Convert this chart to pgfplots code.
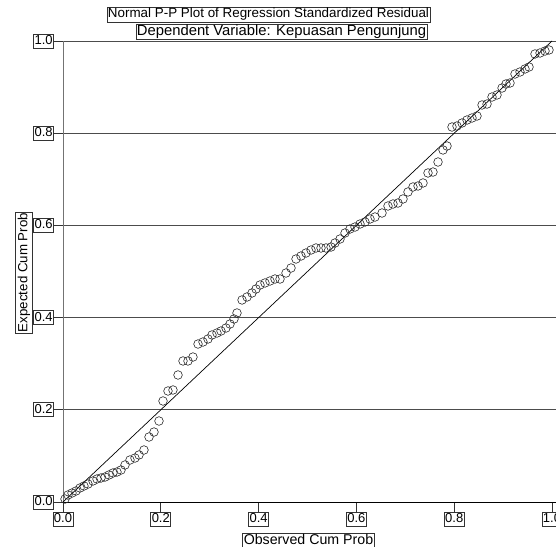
\documentclass[border=0pt]{standalone}
\usepackage{pgfplots}
\pgfplotsset{compat=1.18}
\usepackage{fontspec}
\setmainfont{Liberation Sans}
\pgfplotstableread{
x y
0.0041 0.0065
0.0102 0.0152
0.0184 0.0195
0.0266 0.0239
0.0348 0.0304
0.0429 0.0347
0.0511 0.0390
0.0613 0.0456
0.0695 0.0499
0.0777 0.0521
0.0859 0.0542
0.0941 0.0586
0.1022 0.0629
0.1104 0.0651
0.1186 0.0694
0.1268 0.0803
0.1370 0.0911
0.1472 0.0954
0.1554 0.1020
0.1656 0.1128
0.1759 0.1410
0.1861 0.1518
0.1963 0.1757
0.2045 0.2191
0.2147 0.2408
0.2249 0.2430
0.2352 0.2755
0.2454 0.3059
0.2556 0.3059
0.2658 0.3145
0.2761 0.3427
0.2863 0.3471
0.2965 0.3536
0.3047 0.3623
0.3149 0.3666
0.3231 0.3709
0.3333 0.3774
0.3415 0.3861
0.3497 0.3970
0.3558 0.4100
0.3661 0.4382
0.3763 0.4447
0.3865 0.4534
0.3947 0.4620
0.4029 0.4707
0.4131 0.4751
0.4233 0.4794
0.4335 0.4837
0.4438 0.4837
0.4560 0.4967
0.4663 0.5076
0.4765 0.5271
0.4867 0.5336
0.4969 0.5401
0.5072 0.5466
0.5174 0.5510
0.5276 0.5510
0.5378 0.5510
0.5481 0.5531
0.5562 0.5618
0.5665 0.5705
0.5767 0.5835
0.5869 0.5922
0.5971 0.5965
0.6074 0.6030
0.6176 0.6074
0.6278 0.6139
0.6380 0.6182
0.6524 0.6269
0.6646 0.6421
0.6748 0.6464
0.6851 0.6486
0.6953 0.6573
0.7055 0.6725
0.7157 0.6833
0.7260 0.6855
0.7362 0.6920
0.7464 0.7137
0.7566 0.7158
0.7669 0.7375
0.7771 0.7636
0.7853 0.7722
0.7955 0.8134
0.8057 0.8156
0.8160 0.8221
0.8262 0.8286
0.8364 0.8330
0.8466 0.8373
0.8569 0.8612
0.8671 0.8633
0.8773 0.8785
0.8875 0.8829
0.8978 0.8980
0.9059 0.9067
0.9141 0.9089
0.9243 0.9284
0.9346 0.9328
0.9448 0.9393
0.9530 0.9436
0.9652 0.9718
0.9755 0.9740
0.9857 0.9783
0.9939 0.9805
}\pts
\begin{document}
\fontsize{13.5pt}{15pt}\selectfont
\begin{tikzpicture}[x=1pt,y=1pt]
\useasboundingbox (0,0) rectangle (556,546);
\begin{axis}[
  at={(63pt,44pt)}, anchor=south west, scale only axis,
  width=493pt, height=461pt,
  xmin=0, xmax=1.00818, ymin=0, ymax=1,
  axis line style={draw=none},
  xtick={0,0.2,0.4,0.6,0.8,1.0}, ytick={0,0.2,0.4,0.6,0.8,1.0},
  xticklabels={0.0,0.2,0.4,0.6,0.8,1.0},
  yticklabels={0.0,0.2,0.4,0.6,0.8,1.0},
  xtick pos=bottom, ytick pos=left,
  tick align=outside, major tick length=10pt,
  tick style={black!80, line width=0.8pt},
  ymajorgrids, grid style={black!70, line width=0.9pt},
  ticklabel style={font=\fontsize{13pt}{15pt}\selectfont, draw=black!80, line width=0.8pt, inner sep=1pt, text height=9.5pt, text depth=2.5pt, fill=white},
  xticklabel style={anchor=north, yshift=0pt},
  yticklabel style={anchor=east, xshift=1pt},
  clip=false,
]
\draw[black!55, line width=0.9pt] (axis cs:0,0) -- (axis cs:0,1);
\draw[black, line width=1pt] (axis cs:0,0) -- (axis cs:1.00818,0);
\addplot[black, line width=0.7pt, no marks] coordinates {(0,0) (1,1)};
\addplot[only marks, mark=o, mark size=4.3pt, mark options={line width=0.6pt, black!85}] table[x=x,y=y] {\pts};
\end{axis}
\node[draw=black!80, line width=0.8pt, inner sep=1pt, text height=10pt, text depth=3pt, font=\fontsize{13.4pt}{15pt}\selectfont] at (268.5,531.5) {Normal P-P Plot of Regression Standardized Residual};
\node[draw=black!80, line width=0.8pt, inner sep=1pt, text height=10pt, text depth=3pt, font=\fontsize{14.8pt}{16pt}\selectfont] at (281.5,514) {Dependent Variable: Kepuasan Pengunjung};
\node[draw=black!80, line width=0.8pt, inner sep=1pt, text height=11pt, text depth=4pt, rotate=90, font=\fontsize{13.3pt}{15pt}\selectfont] at (24,273.5) {Expected Cum Prob};
\node[draw=black!80, line width=0.8pt, inner sep=1pt, text height=10pt, text depth=2.5pt, font=\fontsize{14.2pt}{16pt}\selectfont] at (308.5,5) {Observed Cum Prob};
\end{tikzpicture}
\end{document}
